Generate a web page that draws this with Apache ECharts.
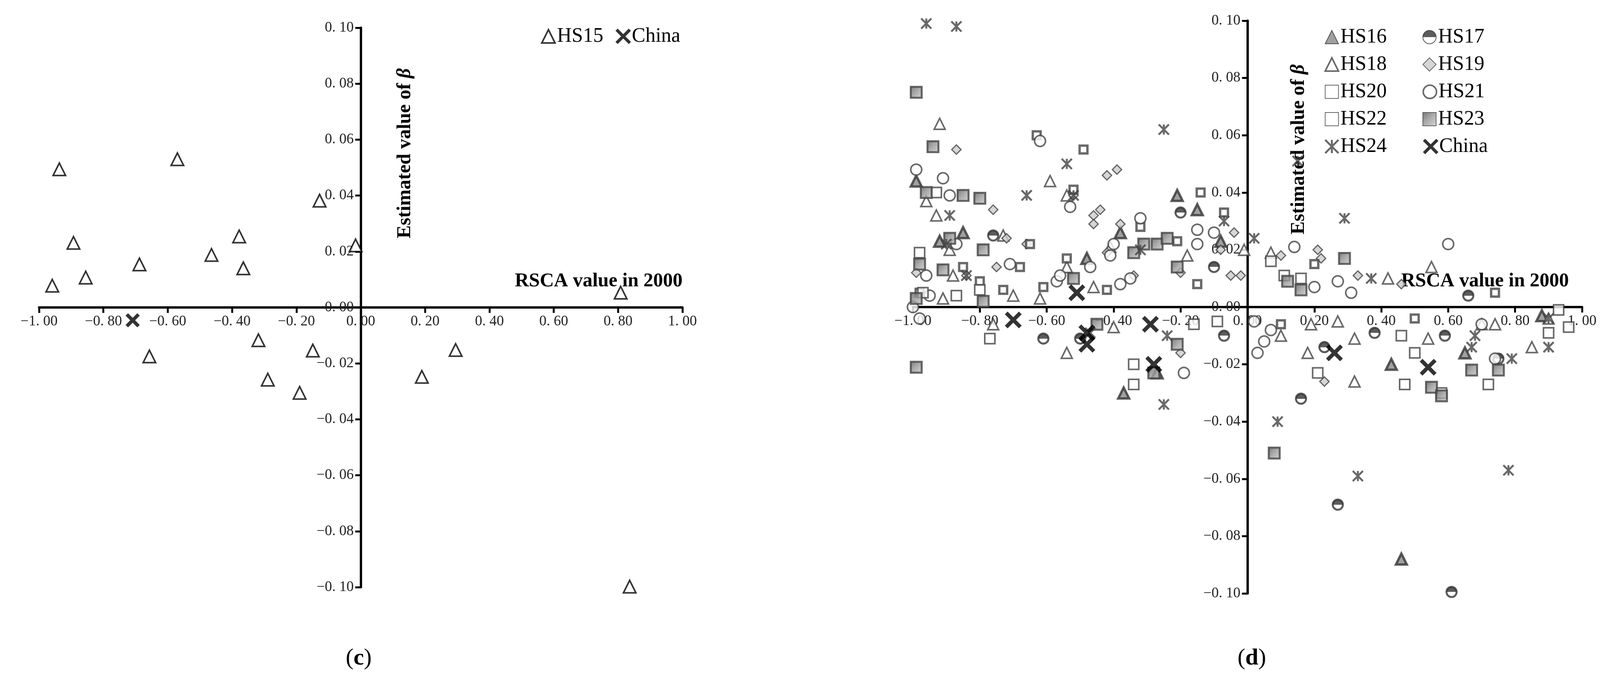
<!DOCTYPE html>
<html><head><meta charset="utf-8">
<script src="https://cdn.jsdelivr.net/npm/echarts@6/dist/echarts.min.js"></script>
<style>html,body{margin:0;padding:0;background:#fff}#c{width:4150px;height:1779px}</style>
</head><body><div id="c"></div>
<script>
const xTicks=[-1,-0.8,-0.6,-0.4,-0.2,0,0.2,0.4,0.6,0.8,1];
const yTicks=[-0.1,-0.08,-0.06,-0.04,-0.02,0,0.02,0.04,0.06,0.08,0.1];
const hs15=[[-0.937,0.0494],[-0.893,0.0231],[-0.855,0.0107],[-0.959,0.0078],[-0.688,0.0154],[-0.570,0.053],[-0.657,-0.0175],[-0.464,0.0188],[-0.378,0.0254],[-0.365,0.014],[-0.318,-0.0117],[-0.289,-0.0258],[-0.190,-0.0305],[-0.149,-0.0154],[-0.128,0.0382],[-0.016,0.0222],[0.190,-0.0248],[0.295,-0.0152],[0.808,0.0053],[0.836,-0.0998]];
const chinaLeft=[[-0.709,-0.0046]];
const hs16=[[-0.99,0.044],[-0.85,0.026],[-0.92,0.023],[-0.48,0.017],[-0.38,0.026],[-0.37,-0.030],[-0.21,0.039],[-0.08,0.023],[0.43,-0.020],[0.46,-0.088],[0.65,-0.016],[0.88,-0.003],[-0.27,-0.023],[-0.15,0.034]];
const hs17=[[-0.76,0.025],[-0.61,-0.011],[-0.50,-0.011],[-0.10,0.014],[-0.07,-0.010],[0.16,-0.032],[0.23,-0.014],[0.27,-0.069],[0.38,-0.009],[0.59,-0.010],[0.61,-0.0995],[0.75,-0.018],[-0.20,0.033],[0.66,0.004]];
const hs18=[[-0.92,0.064],[-0.93,0.032],[-0.89,0.020],[-0.91,0.003],[-0.88,0.011],[-0.76,-0.006],[-0.73,0.025],[-0.70,0.004],[-0.62,0.003],[-0.59,0.044],[-0.54,0.039],[-0.54,0.014],[-0.54,-0.016],[-0.46,0.007],[-0.40,-0.007],[-0.41,0.021],[-0.18,0.018],[-0.01,0.020],[0.07,0.019],[0.10,-0.010],[0.18,-0.016],[0.19,-0.006],[0.27,-0.005],[0.32,-0.011],[0.32,-0.026],[0.42,0.010],[0.55,0.014],[0.54,-0.011],[0.70,-0.006],[0.74,-0.006],[0.85,-0.014],[0.90,-0.004],[-0.96,0.037]];
const hs19=[[-0.87,0.055],[-0.76,0.034],[-0.72,0.024],[-0.75,0.014],[-0.66,0.022],[-0.52,0.039],[-0.46,0.032],[-0.46,0.029],[-0.44,0.034],[-0.42,0.046],[-0.39,0.048],[-0.38,0.029],[-0.42,0.019],[-0.34,0.011],[-0.20,-0.016],[-0.20,0.012],[-0.08,0.020],[-0.04,0.026],[-0.05,0.011],[-0.02,0.011],[0.10,0.018],[0.21,0.020],[0.22,0.017],[0.23,-0.026],[0.33,0.011],[-0.99,0.012],[-0.84,0.011],[0.46,0.008]];
const hs20=[[-0.63,0.060],[-0.49,0.055],[-0.52,0.041],[-0.65,0.022],[-0.68,0.014],[-0.61,0.007],[-0.54,0.017],[-0.42,0.006],[-0.32,0.028],[-0.21,0.023],[-0.15,0.008],[-0.14,0.040],[-0.07,0.033],[0.50,-0.004],[0.74,0.005],[0.10,-0.006],[0.20,0.015],[-0.85,0.014],[-0.80,0.009],[-0.98,0.005],[-0.73,0.006]];
const hs21=[[-0.99,0.048],[-0.91,0.045],[-0.89,0.039],[-1.00,0.000],[-0.98,-0.004],[-0.95,0.004],[-0.96,0.011],[-0.87,0.022],[-0.62,0.058],[-0.71,0.015],[-0.57,0.009],[-0.56,0.011],[-0.47,0.014],[-0.53,0.035],[-0.35,0.010],[-0.38,0.008],[-0.41,0.018],[-0.40,0.022],[-0.32,0.031],[-0.19,-0.023],[-0.15,0.022],[-0.15,0.027],[-0.10,0.026],[0.02,-0.005],[0.05,-0.012],[0.07,-0.008],[0.14,0.021],[0.20,0.007],[0.27,0.009],[0.31,0.005],[0.60,0.022],[0.70,-0.006],[0.74,-0.018],[0.03,-0.016]];
const hs22=[[-0.93,0.040],[-0.98,0.019],[-0.97,0.005],[-0.87,0.004],[-0.80,0.006],[-0.77,-0.011],[-0.34,-0.020],[-0.34,-0.027],[-0.09,-0.005],[-0.16,-0.006],[0.11,0.011],[0.16,0.010],[0.46,-0.010],[0.47,-0.027],[0.50,-0.016],[0.72,-0.027],[0.93,-0.001],[0.96,-0.007],[0.90,-0.009],[0.21,-0.023],[0.58,-0.030],[0.07,0.016]];
const hs23=[[-0.99,0.075],[-0.94,0.056],[-0.96,0.040],[-0.85,0.039],[-0.80,0.038],[-0.98,0.015],[-0.91,0.013],[-0.89,0.024],[-0.79,0.020],[-0.79,0.002],[-0.99,0.003],[-0.99,-0.021],[-0.52,0.010],[-0.34,0.019],[-0.31,0.022],[-0.27,0.022],[-0.24,0.024],[-0.21,0.014],[-0.28,-0.023],[0.08,-0.051],[0.16,0.006],[0.12,0.009],[0.29,0.017],[0.67,-0.022],[0.75,-0.022],[0.55,-0.028],[0.58,-0.031],[-0.21,-0.013],[-0.45,-0.006]];
const hs24=[[-0.96,0.099],[-0.87,0.098],[-0.25,0.062],[0.15,0.051],[-0.54,0.050],[-0.66,0.039],[-0.52,0.039],[-0.89,0.032],[0.29,0.031],[-0.07,0.030],[0.02,0.024],[-0.90,0.022],[-0.84,0.011],[0.37,0.010],[-0.24,-0.010],[-0.25,-0.034],[0.09,-0.040],[0.33,-0.059],[0.78,-0.057],[0.79,-0.018],[0.67,-0.014],[0.68,-0.010],[0.90,-0.014],[0.90,-0.004],[-0.32,0.020],[-0.47,-0.009]];
const chinaRight=[[-0.70,-0.0045],[-0.51,0.005],[-0.48,-0.009],[-0.48,-0.013],[-0.29,-0.006],[-0.28,-0.020],[0.26,-0.016],[0.54,-0.021]];

const SERIF='"Liberation Serif","DejaVu Serif",serif';
const G=[{left:100,top:71,width:1647,height:1432},{left:2337,top:53,width:1713,height:1466}];
const fmt=v=>{const s=Math.abs(v).toFixed(2).replace('.', '. ');return (v<0?'\u2212':'')+s;};
const lbl={formatter:fmt,fontFamily:SERIF,fontSize:37,color:'#222'};
function xA(i){return {type:'value',gridIndex:i,min:-1,max:1,interval:0.2,position:'bottom',offset:-G[i].height/2,
 axisLine:{onZero:false,lineStyle:{color:'#000',width:6}},axisTick:{length:14,lineStyle:{color:'#000',width:5}},
 splitLine:{show:false},axisLabel:Object.assign({margin:18},lbl)};}
function yA(i){return {type:'value',gridIndex:i,min:-0.1,max:0.1,interval:0.02,position:'left',offset:-G[i].width/2,
 axisLine:{onZero:false,lineStyle:{color:'#000',width:6}},axisTick:{length:14,lineStyle:{color:'#000',width:5}},
 splitLine:{show:false},axisLabel:Object.assign({margin:18},lbl)};}
const X='path://M0,0L20,20M20,0L0,20';
const AST='path://M0,0L20,20M20,0L0,20M10,0L10,20';
function sc(name,data,gi,symbol,size,style){return {name,type:'scatter',xAxisIndex:gi,yAxisIndex:gi,data,symbol,symbolSize:size,itemStyle:style,emphasis:{disabled:true}};}
const halfFill={type:'linear',x:0,y:0,x2:0,y2:1,colorStops:[{offset:0,color:'#333'},{offset:0.5,color:'#333'},{offset:0.5,color:'#fff'},{offset:1,color:'#fff'}]};
const shade={type:'linear',x:0,y:0,x2:1,y2:1,colorStops:[{offset:0,color:'#555'},{offset:0.5,color:'#999'},{offset:1,color:'#ccc'}]};
const series=[
 sc('HS15',hs15,0,'triangle',32,{color:'#fff',borderColor:'#000',borderWidth:4}),
 sc('China',chinaLeft,0,X,30,{color:'none',borderColor:'#000',borderWidth:9}),
 sc('HS16',hs16,1,'triangle',28,{color:'#888',borderColor:'#333',borderWidth:6}),
 sc('HS17',hs17,1,'circle',26,{color:halfFill,borderColor:'#333',borderWidth:5}),
 sc('HS18',hs18,1,'triangle',28,{color:'#fff',borderColor:'#444',borderWidth:4}),
 sc('HS19',hs19,1,'diamond',24,{color:'#ccc',borderColor:'#444',borderWidth:3}),
 sc('HS20',hs20,1,'rect',20,{color:'#fff',borderColor:'#444',borderWidth:6}),
 sc('HS21',hs21,1,'circle',28,{color:'#fff',borderColor:'#444',borderWidth:4}),
 sc('HS22',hs22,1,'rect',26,{color:'#fff',borderColor:'#444',borderWidth:4}),
 sc('HS23',hs23,1,'rect',28,{color:shade,borderColor:'#444',borderWidth:5}),
 sc('HS24',hs24,1,AST,26,{color:'none',borderColor:'#444',borderWidth:5}),
 sc('China',chinaRight,1,X,36,{color:'none',borderColor:'#000',borderWidth:10})
];
const legText={fontFamily:SERIF,fontSize:52,color:'#000'};
const chinaLeg={name:'China',itemStyle:{borderWidth:8,borderColor:'#000'}};
const opt={animation:false,backgroundColor:'#fff',
 grid:G,
 xAxis:[xA(0),xA(1)],yAxis:[yA(0),yA(1)],series,
 legend:[
  {data:[{name:'HS15',itemStyle:{borderWidth:4,borderColor:'#000'}},chinaLeg],left:1380,top:62,itemWidth:34,itemHeight:34,itemGap:30,textStyle:legText,selectedMode:false},
  {data:['HS16','HS17',{name:'HS18',itemStyle:{borderWidth:4,borderColor:'#444'}},'HS19','HS20',{name:'HS21',itemStyle:{borderWidth:4,borderColor:'#444'}},'HS22','HS23',{name:'HS24',itemStyle:{borderWidth:5,borderColor:'#444'}},chinaLeg],left:3385,top:62,width:520,itemWidth:34,itemHeight:34,itemGap:14,
   textStyle:Object.assign({width:196,lineHeight:56},legText),selectedMode:false}
 ],
 graphic:[
  {type:'text',x:1012,y:610,rotation:Math.PI/2,style:{text:'Estimated value of {i|β}',rich:{i:{font:'italic bold 50px '+SERIF}},font:'bold 50px '+SERIF,fill:'#000'}},
  {type:'text',x:3300,y:600,rotation:Math.PI/2,style:{text:'Estimated value of {i|β}',rich:{i:{font:'italic bold 50px '+SERIF}},font:'bold 50px '+SERIF,fill:'#000'}},
  {type:'text',left:1318,top:695,style:{text:'RSCA value in 2000',font:'bold 50px '+SERIF,fill:'#000'}},
  {type:'text',left:3587,top:695,style:{text:'RSCA value in 2000',font:'bold 50px '+SERIF,fill:'#000'}},
  {type:'text',left:885,top:1655,style:{text:'({b|c})',rich:{b:{font:'bold 60px '+SERIF}},font:'60px '+SERIF,fill:'#000'}},
  {type:'text',left:3168,top:1655,style:{text:'({b|d})',rich:{b:{font:'bold 60px '+SERIF}},font:'60px '+SERIF,fill:'#000'}}
 ]};
const ch=echarts.init(document.getElementById('c'));
ch.setOption(opt);
</script></body></html>
